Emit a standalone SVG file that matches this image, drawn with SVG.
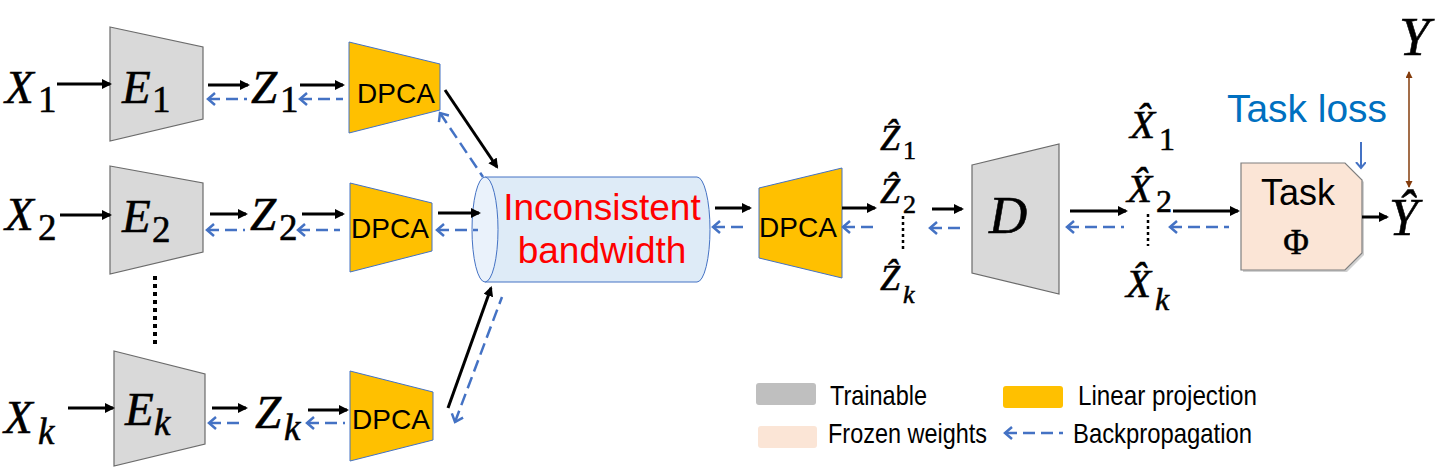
<svg xmlns="http://www.w3.org/2000/svg" width="1440" height="468" viewBox="0 0 1440 468">
<defs>
<style>
.tr{fill:#D9D9D9;stroke:#6B6B6B;stroke-width:1.2}
.pj{fill:#FFC000;stroke:#4472C4;stroke-width:1}
.fw{stroke:#000;stroke-width:3;fill:none;marker-end:url(#ah)}
.bw{stroke:#4472C4;stroke-width:2.5;fill:none;stroke-dasharray:12 6;marker-start:url(#bh)}
.dot{stroke:#000;fill:none}
.dp{font-family:"Liberation Sans",Arial,sans-serif;font-size:28px;text-anchor:middle;fill:#000}
.m{font-family:"Liberation Serif","Times New Roman",serif;font-style:italic;fill:#000;stroke:#000;stroke-width:0.55}
.n{font-style:normal}
.lg{font-family:"Liberation Sans",Arial,sans-serif;font-size:28px;fill:#000}
</style>
<marker id="ah" markerUnits="userSpaceOnUse" markerWidth="12" markerHeight="12" refX="8" refY="5" orient="auto"><path d="M0,0 L10,5 L0,10 Z" fill="#000"/></marker>
<marker id="bh" markerUnits="userSpaceOnUse" markerWidth="12" markerHeight="16" refX="8" refY="7" orient="auto-start-reverse"><path d="M1,1 L8,7 L1,13" fill="none" stroke="#4472C4" stroke-width="2.5"/></marker>
<marker id="brh" markerUnits="userSpaceOnUse" markerWidth="8" markerHeight="8" refX="6" refY="3.5" orient="auto-start-reverse"><path d="M0,0 L7,3.5 L0,7 Z" fill="#843C0C"/></marker>
<marker id="tl" markerUnits="userSpaceOnUse" markerWidth="12" markerHeight="12" refX="6" refY="5" orient="auto"><path d="M0,0 L6,5 L0,10" fill="none" stroke="#4472C4" stroke-width="2"/></marker>
</defs>
<rect width="1440" height="468" fill="#fff"/>

<g id="x1"><text class="m" x="5" y="103" font-size="47">X<tspan class="n" x="38" y="112" font-size="37">1</tspan></text></g>
<g id="x2"><text class="m" x="5" y="230" font-size="47">X<tspan class="n" x="38" y="240" font-size="37">2</tspan></text></g>
<g id="xk"><text class="m" x="4" y="433" font-size="47">X<tspan x="38" y="444" font-size="37">k</tspan></text></g>

<g id="e1"><polygon class="tr" points="110,27 203,47 203,119 110,141"/><text class="m" x="122" y="103" font-size="47">E<tspan class="n" x="152" y="112" font-size="37">1</tspan></text></g>
<g id="e2"><polygon class="tr" points="110,166 203,183 203,252 110,274"/><text class="m" x="122" y="232" font-size="47">E<tspan class="n" x="152" y="242" font-size="37">2</tspan></text></g>
<g id="ek"><polygon class="tr" points="114,351 205,374 205,444 114,466"/><text class="m" x="125" y="425" font-size="47">E<tspan x="154" y="435" font-size="37">k</tspan></text></g>

<g id="z1"><text class="m" x="251" y="103" font-size="47">Z<tspan class="n" x="280" y="112" font-size="37">1</tspan></text></g>
<g id="z2"><text class="m" x="250" y="230" font-size="47">Z<tspan class="n" x="279" y="240" font-size="37">2</tspan></text></g>
<g id="zk"><text class="m" x="255" y="428" font-size="47">Z<tspan x="284" y="440" font-size="37">k</tspan></text></g>

<g id="dpca1"><polygon class="pj" points="349,42 440,64 440,110 349,133"/><text class="dp" x="396" y="103">DPCA</text></g>
<g id="dpca2"><polygon class="pj" points="350,183 432,203 432,251 350,272"/><text class="dp" x="390" y="238">DPCA</text></g>
<g id="dpcak"><polygon class="pj" points="350,371 433,392 433,440 350,461"/><text class="dp" x="391" y="429">DPCA</text></g>

<g id="channel">
<path d="M485,177 H697 A13,52.5 0 0 1 697,282 H485 Z" fill="#DEEBF7" stroke="#4472C4" stroke-width="1"/>
<ellipse cx="485" cy="229.5" rx="13" ry="52.5" fill="#EAF2FB" stroke="#4472C4" stroke-width="1"/>
<text x="602" y="220" font-family="Liberation Sans,Arial,sans-serif" font-size="37" fill="#FF0000" text-anchor="middle">Inconsistent</text>
<text x="602" y="263" font-family="Liberation Sans,Arial,sans-serif" font-size="37" fill="#FF0000" text-anchor="middle">bandwidth</text>
</g>

<g id="dpcac"><polygon class="pj" points="759,188 842,168 842,278 759,258"/><text class="dp" x="798" y="237">DPCA</text></g>

<g id="zhat">
<text class="m" x="880" y="150" font-size="36">Ẑ<tspan class="n" x="903" y="159" font-size="26">1</tspan></text>
<text class="m" x="880" y="203" font-size="36">Ẑ<tspan class="n" x="903" y="213" font-size="26">2</tspan></text>
<text class="m" x="880" y="290" font-size="36">Ẑ<tspan x="903" y="303" font-size="26">k</tspan></text>
</g>

<g id="d"><polygon class="tr" points="972,165 1059,144 1059,294 972,273"/><text class="m" x="989" y="233" font-size="53">D</text></g>

<g id="xhat">
<text class="m" x="1130" y="138" font-size="41">X̂<tspan class="n" x="1159" y="150" font-size="32">1</tspan></text>
<text class="m" x="1127" y="202" font-size="41">X̂<tspan class="n" x="1156" y="212" font-size="32">2</tspan></text>
<text class="m" x="1126" y="297" font-size="41">X̂<tspan x="1155" y="310" font-size="32">k</tspan></text>
</g>

<g id="task">
<polygon points="1243,165 1347,165 1364,182 1364,255 1347,272 1243,272" fill="#000" opacity="0.18"/>
<polygon points="1241,163 1345,163 1362,180 1362,253 1345,270 1241,270" fill="#FBE5D6" stroke="#7F7F7F" stroke-width="1.2"/>
<text x="1298" y="205" font-family="Liberation Sans,Arial,sans-serif" font-size="37" text-anchor="middle" textLength="74" lengthAdjust="spacingAndGlyphs">Task</text>
<text x="1296" y="254" font-family="Liberation Serif,serif" font-size="35" text-anchor="middle" stroke="#000" stroke-width="0.5">Φ</text>
</g>

<g id="taskloss"><text x="1227" y="122" font-family="Liberation Sans,Arial,sans-serif" font-size="38" fill="#0070C0" textLength="160" lengthAdjust="spacingAndGlyphs">Task loss</text></g>
<g id="y"><text class="m" x="1399" y="55" font-size="55">Y</text></g>
<g id="yhat"><text class="m" x="1389" y="235" font-size="52">Ŷ</text></g>

<g id="connectors">
<path class="fw" d="M57,84 H110"/>
<path class="fw" d="M208,85 H248"/>
<path class="fw" d="M300,85 H343"/>
<path class="fw" d="M445,90 L497,167"/>
<path class="fw" d="M60,215 H110"/>
<path class="fw" d="M210,214 H246"/>
<path class="fw" d="M302,214 H343"/>
<path class="fw" d="M438,213 H479"/>
<path class="fw" d="M68,408 H113"/>
<path class="fw" d="M212,408 H246"/>
<path class="fw" d="M308,410 H347"/>
<path class="fw" d="M448,408 L491,288"/>
<path class="fw" d="M715,208 H750"/>
<path class="fw" d="M842,208 H875"/>
<path class="fw" d="M932,209 H962"/>
<path class="fw" d="M1070,211 H1126"/>
<path class="fw" d="M1173,211 H1238"/>
<path class="fw" d="M1362,217 H1387"/>

<path class="bw" d="M208,99 H247"/>
<path class="bw" d="M300,99 H343"/>
<path class="bw" d="M440,113 L483,177"/>
<path class="bw" d="M207,230 H245"/>
<path class="bw" d="M298,230 H340"/>
<path class="bw" d="M437,230 H478"/>
<path class="bw" d="M209,423 H245"/>
<path class="bw" d="M307,423 H345"/>
<path class="bw" d="M455,422 L502,297"/>
<path class="bw" d="M713,227 H746"/>
<path class="bw" d="M843,227 H875"/>
<path class="bw" d="M930,228 H961"/>
<path class="bw" d="M1067,227 H1124"/>
<path class="bw" d="M1170,227 H1229"/>

<path d="M1409,72 V187" stroke="#843C0C" stroke-width="1.5" fill="none" marker-start="url(#brh)" marker-end="url(#brh)"/>
<path d="M1361,142 V168" stroke="#4472C4" stroke-width="2" fill="none" marker-end="url(#tl)"/>

<path class="dot" d="M155,276 V348" stroke-width="4" stroke-dasharray="4 4"/>
<path class="dot" d="M903,216 V252" stroke-width="2.5" stroke-dasharray="3 3"/>
<path class="dot" d="M1148,214 V246" stroke-width="2.5" stroke-dasharray="3 3"/>
</g>

<g id="legend">
<rect x="756" y="383" width="60" height="22" rx="3" fill="#BFBFBF"/>
<text class="lg" x="830" y="405" textLength="97" lengthAdjust="spacingAndGlyphs">Trainable</text>
<rect x="1003" y="386" width="60" height="22" rx="3" fill="#FFC000"/>
<text class="lg" x="1078" y="405" textLength="179" lengthAdjust="spacingAndGlyphs">Linear projection</text>
<rect x="758" y="426" width="59" height="22" rx="3" fill="#FBE5D6"/>
<text class="lg" x="828" y="443" textLength="159" lengthAdjust="spacingAndGlyphs">Frozen weights</text>
<path class="bw" d="M1005,433 H1063"/>
<text class="lg" x="1073" y="443" textLength="179" lengthAdjust="spacingAndGlyphs">Backpropagation</text>
</g>
</svg>
